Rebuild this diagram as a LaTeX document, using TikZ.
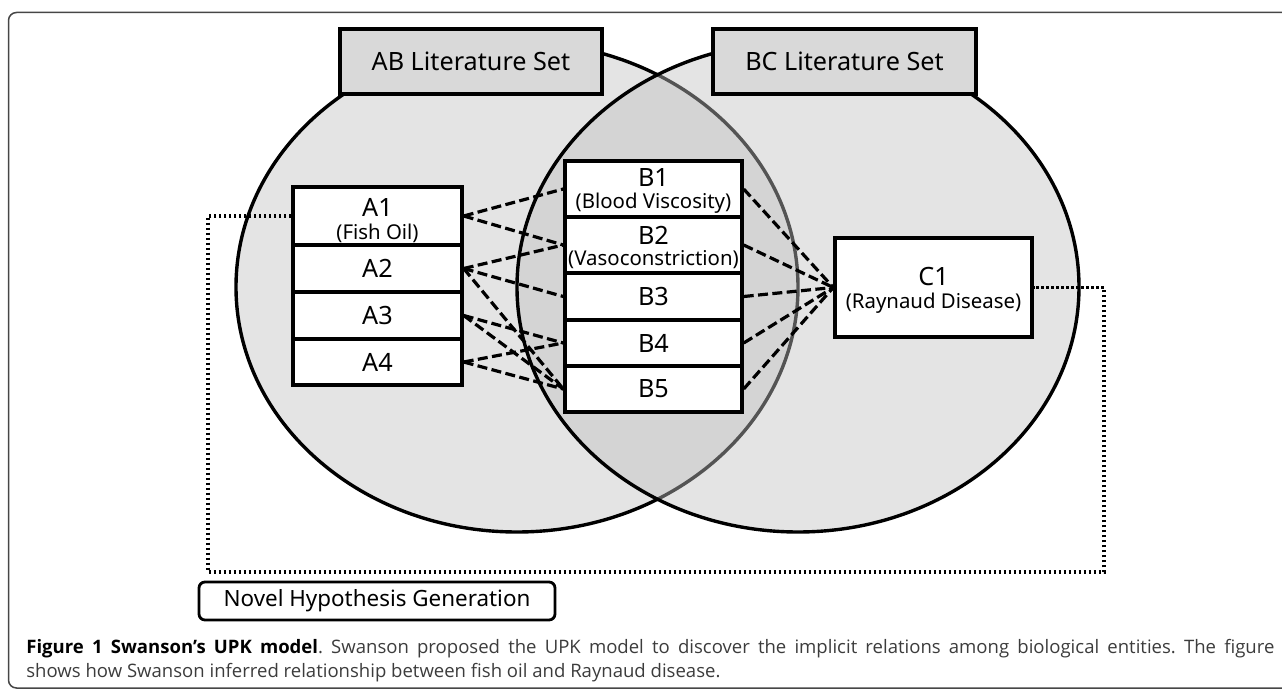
\documentclass[tikz,border=0pt]{standalone}
\usepackage{fontspec}
\setmainfont{Noto Sans}
\newfontfamily\capfont{Open Sans}
\definecolor{vennfill}{RGB}{193,193,193}
\definecolor{setfill}{RGB}{217,217,217}
\definecolor{framecol}{RGB}{70,70,70}
\definecolor{captext}{RGB}{60,60,60}
\newlength\capw
\tikzset{
  frameline/.style={draw=framecol, line width=0.75pt, rounded corners=4pt},
  venn/.style={fill=vennfill, fill opacity=0.44, draw=black, line width=1.7pt},
  box/.style={draw=black, line width=1.7pt, fill=white, inner sep=0pt},
  abox/.style={box, minimum width=84.5pt},
  bbox/.style={box, minimum width=88.5pt},
  setbox/.style={draw=black, line width=1.7pt, fill=setfill, inner sep=0pt,
    minimum height=32.5pt, font=\fontsize{12.6}{14}\selectfont},
  mainlbl/.style={inner sep=0pt, font=\fontsize{12.6}{14}\selectfont},
  sublbl/.style={inner sep=0pt, font=\fontsize{10.2}{12}\selectfont},
  link/.style={draw=black, line width=1.6pt, dash pattern=on 5pt off 2.2pt},
  dots/.style={draw=black, line width=1.6pt, dash pattern=on 1.4pt off 1.1pt},
  novel/.style={draw=black, line width=1.4pt, fill=white, rounded corners=3pt,
    inner sep=0pt, minimum width=178pt, minimum height=19pt,
    font=\fontsize{11.2}{13}\selectfont},
  capline/.style={anchor=base west, inner sep=0pt, text=captext}
}
\begin{document}
\frenchspacing
\settowidth\capw{\capfont\fontsize{10}{12}\selectfont shows how Swanson inferred relationship between fish oil and Raynaud disease.}
\pgfmathsetmacro\capsize{10*347/\capw}
\begin{tikzpicture}[x=0.5pt,y=-0.5pt]
\useasboundingbox (0,0) rectangle (1282,690);
% outer frame
\draw[frameline] (1300,12.5) -- (8.5,12.5) -- (8.5,688) -- (1300,688);
% Venn ellipses
\path[venn] (517,287) ellipse [x radius=281, y radius=245];
\path[venn] (798,287) ellipse [x radius=281, y radius=245];
% boxes (positions)
\node[abox, minimum height=29pt] (A1) at (377.5,216) {};
\node[abox, minimum height=23.5pt, mainlbl] (A2) at (377.5,268.5) {A2};
\node[abox, minimum height=23.5pt, mainlbl] (A3) at (377.5,315.5) {A3};
\node[abox, minimum height=23pt, mainlbl] (A4) at (377.5,362) {A4};
\node[bbox, minimum height=28pt] (B1) at (653.5,189) {};
\node[bbox, minimum height=28pt] (B2) at (653.5,245) {};
\node[bbox, minimum height=23.5pt, mainlbl] (B3) at (653.5,296.5) {B3};
\node[bbox, minimum height=23pt, mainlbl] (B4) at (653.5,343) {B4};
\node[bbox, minimum height=23pt, mainlbl] (B5) at (653.5,389) {B5};
\node[box, minimum width=98.5pt, minimum height=49.5pt] (C1) at (933.5,287.5) {};
% dotted feedback path
\coordinate (d1) at (208,216);
\coordinate (d2) at (208,572);
\coordinate (d3) at (1104,572);
\coordinate (d4) at (1104,287.5);
\path[dots] (A1.west) -- (d1) -- (d2) -- (d3) -- (d4) -- (C1.east);
% dashed links
\foreach \a/\b in {A1/B1,A1/B2,A2/B2,A2/B3,A2/B5,A3/B4,A3/B5,A4/B4,A4/B5}
  \path[link] (\a.east) -- (\b.west);
\foreach \b in {B1,B2,B3,B4,B5}
  \path[link] (\b.east) -- (C1.west);
% redraw boxes on top of the links
\node[abox, minimum height=29pt] at (A1) {};
\node[abox, minimum height=23.5pt, mainlbl] at (A2) {A2};
\node[abox, minimum height=23.5pt, mainlbl] at (A3) {A3};
\node[abox, minimum height=23pt, mainlbl] at (A4) {A4};
\node[bbox, minimum height=28pt] at (B1) {};
\node[bbox, minimum height=28pt] at (B2) {};
\node[bbox, minimum height=23.5pt, mainlbl] at (B3) {B3};
\node[bbox, minimum height=23pt, mainlbl] at (B4) {B4};
\node[bbox, minimum height=23pt, mainlbl] at (B5) {B5};
\node[box, minimum width=98.5pt, minimum height=49.5pt] at (C1) {};
% two-line labels
\node[mainlbl] (A1t) at (377.5,207) {A1};
\node[sublbl] (A1s) at (377.5,233) {(Fish Oil)};
\node[mainlbl] (B1t) at (653.5,178) {B1};
\node[sublbl] (B1s) at (653.5,203) {(Blood Viscosity)};
\node[mainlbl] (B2t) at (653.5,235) {B2};
\node[sublbl] (B2s) at (653.5,260) {(Vasoconstriction)};
\node[mainlbl] (C1t) at (933.5,277) {C1};
\node[sublbl] (C1s) at (933.5,303) {(Raynaud Disease)};
% set labels
\node[setbox, minimum width=131pt] (AB) at (471,61.5) {AB Literature Set};
\node[setbox, minimum width=131.5pt] (BC) at (844.5,61.5) {BC Literature Set};
% novel hypothesis
\node[novel] (NH) at (377,601) {Novel Hypothesis Generation};
% caption
\node[capline, font=\capfont\fontsize{\capsize}{14}\selectfont] (cap1) at (26,653) {\makebox[624pt][s]{\textcolor{black}{\bfseries Figure 1 Swanson’s UPK model}. Swanson proposed the UPK model to discover the implicit relations among biological entities. The figure}};
\node[capline, font=\capfont\fontsize{\capsize}{14}\selectfont] (cap2) at (26,677) {shows how Swanson inferred relationship between fish oil and Raynaud disease.};
\end{tikzpicture}
\end{document}
